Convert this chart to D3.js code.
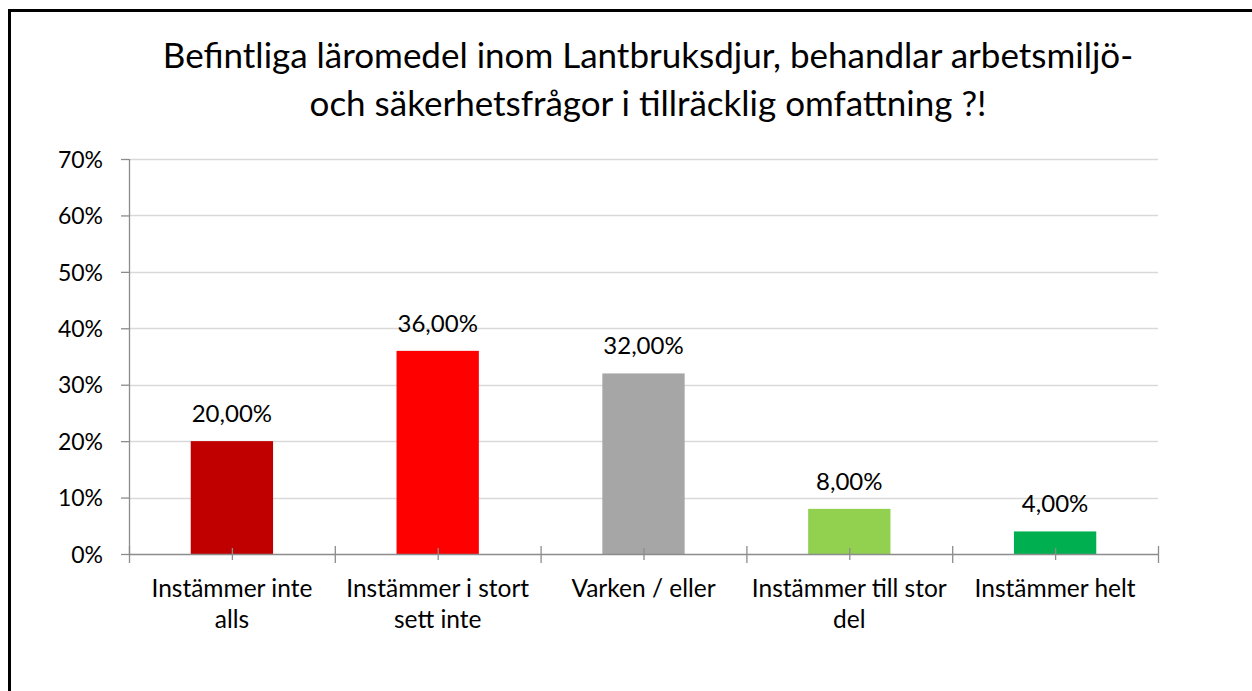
<!DOCTYPE html>
<html>
<head>
<meta charset="utf-8">
<script src="https://cdn.jsdelivr.net/npm/d3@7"></script>
<style>
  body { margin: 0; background: #fff; }
  svg text { font-family: Lato, "Liberation Sans", sans-serif; fill: #000; }
</style>
</head>
<body>
<svg id="chart" width="1252" height="691"></svg>
<script>
// chart data
const titleLines = ["Befintliga läromedel inom Lantbruksdjur, behandlar arbetsmiljö-",
                    "och säkerhetsfrågor i tillräcklig omfattning ?!"];
const categories = [
  ["Instämmer inte", "alls"],
  ["Instämmer i stort", "sett inte"],
  ["Varken / eller"],
  ["Instämmer till stor", "del"],
  ["Instämmer helt"]
];
const values = [0.20, 0.36, 0.32, 0.08, 0.04];
const valueLabels = ["20,00%", "36,00%", "32,00%", "8,00%", "4,00%"];
const barColors = ["#C00000", "#FF0000", "#A6A6A6", "#92D050", "#00B050"];
const yTicks = [0, 0.1, 0.2, 0.3, 0.4, 0.5, 0.6, 0.7];

const svg = d3.select("#chart");

// outer frame (only top and left edges fall inside the picture)
svg.append("rect")
    .attr("x", 9.5).attr("y", 10.5)
    .attr("width", 1260).attr("height", 700)
    .attr("fill", "none")
    .attr("stroke", "#000")
    .attr("stroke-width", 3);

const margin = {left: 129, right: 1158, top: 159, bottom: 554};

const x = d3.scaleBand()
    .domain(d3.range(categories.length))
    .range([margin.left, margin.right])
    .paddingInner(0.6).paddingOuter(0.3);

const band = d3.scaleBand()
    .domain(d3.range(categories.length))
    .range([margin.left, margin.right]);

const y = d3.scaleLinear()
    .domain([0, 0.7])
    .range([margin.bottom, margin.top]);

// title
svg.append("g").selectAll("text")
    .data(titleLines)
    .enter().append("text")
    .attr("x", 648)
    .attr("y", (d, i) => 68 + i * 48)
    .attr("text-anchor", "middle")
    .style("font-size", "35px")
    .text(d => d);

// gridlines
svg.append("g").selectAll("line")
    .data(yTicks.slice(1))
    .enter().append("line")
    .attr("x1", margin.left).attr("x2", margin.right)
    .attr("y1", d => Math.round(y(d)) + 0.5)
    .attr("y2", d => Math.round(y(d)) + 0.5)
    .attr("stroke", "#D9D9D9")
    .attr("stroke-width", 1.3);

// y axis
const yAxis = d3.axisLeft(y)
    .tickValues(yTicks)
    .tickSize(8)
    .tickPadding(18)
    .tickFormat(d => Math.round(d * 100) + "%");

const yg = svg.append("g")
    .attr("transform", "translate(" + margin.left + ",0)")
    .call(yAxis);
yg.select(".domain").attr("stroke", "#8C8C8C").attr("stroke-width", 1.3).attr("d", "M0.5," + margin.top + "V" + margin.bottom);
yg.selectAll(".tick line").attr("stroke", "#8C8C8C").attr("stroke-width", 1.3);
yg.selectAll(".tick text").style("font-size", "23px").attr("dy", "0.36em");

// bars
svg.append("g").selectAll("rect")
    .data(values)
    .enter().append("rect")
    .attr("x", (d, i) => x(i))
    .attr("y", d => y(d))
    .attr("width", x.bandwidth())
    .attr("height", d => y(0) - y(d))
    .attr("fill", (d, i) => barColors[i]);

// x axis line
svg.append("line")
    .attr("x1", margin.left).attr("x2", margin.right)
    .attr("y1", margin.bottom + 0.5).attr("y2", margin.bottom + 0.5)
    .attr("stroke", "#8C8C8C").attr("stroke-width", 1.3);

// boundary ticks
const bounds = d3.range(categories.length + 1).map(i => i < categories.length ? band(i) : margin.right);
svg.append("g").selectAll("line")
    .data(bounds)
    .enter().append("line")
    .attr("x1", d => d + 0.5).attr("x2", d => d + 0.5)
    .attr("y1", margin.bottom - 8).attr("y2", margin.bottom + 9)
    .attr("stroke", "#8C8C8C").attr("stroke-width", 1.3);

// midpoint ticks
svg.append("g").selectAll("line")
    .data(d3.range(categories.length))
    .enter().append("line")
    .attr("x1", i => band(i) + band.bandwidth() / 2 + 0.5)
    .attr("x2", i => band(i) + band.bandwidth() / 2 + 0.5)
    .attr("y1", margin.bottom - 6).attr("y2", margin.bottom + 6)
    .attr("stroke", "#8C8C8C").attr("stroke-width", 1.3);

// value labels
svg.append("g").selectAll("text")
    .data(values)
    .enter().append("text")
    .attr("x", (d, i) => x(i) + x.bandwidth() / 2)
    .attr("y", d => y(d) - 19)
    .attr("text-anchor", "middle")
    .style("font-size", "24px")
    .text((d, i) => valueLabels[i]);

// category labels
const cat = svg.append("g").selectAll("text")
    .data(categories)
    .enter().append("text")
    .attr("text-anchor", "middle")
    .style("font-size", "24.5px");
cat.selectAll("tspan")
    .data((d, i) => d.map(t => ({t: t, i: i})))
    .enter().append("tspan")
    .attr("x", d => band(d.i) + band.bandwidth() / 2)
    .attr("y", (d, j) => 597 + j * 31)
    .text(d => d.t);
</script>
</body>
</html>
